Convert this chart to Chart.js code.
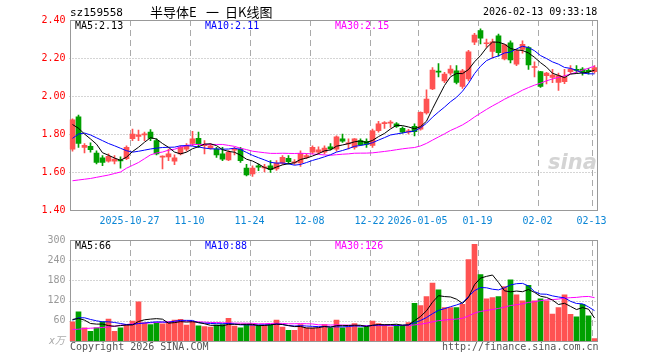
<!DOCTYPE html>
<html lang="zh-CN">
<head>
<meta charset="UTF-8">
<title>半导体E 日K线图</title>
<script src="https://cdn.jsdelivr.net/npm/chart.js"></script>
<style>
  body { margin: 0; background: #fff; }
  #wrap { position: relative; width: 660px; height: 360px; overflow: hidden; }
  #kline { position: absolute; left: 0; top: 0; }
  #vol { position: absolute; left: 0; top: 230px; }
  .t { position: absolute; font: 10px 'DejaVu Sans Mono', monospace; line-height: 12px; white-space: pre; }
  .cn { font: 13px 'Noto Sans CJK SC', sans-serif; line-height: 16px; top: 4px; }
</style>
</head>
<body>
<div id="wrap">
  <canvas id="kline" width="660" height="230"></canvas>
  <canvas id="vol" width="660" height="130"></canvas>

  <div class="t" style="left:70px;top:7px;font-size:11px;">sz159558</div>
  <div class="t cn" style="left:150px;">半导体E</div>
  <div class="t cn" style="left:206px;">一</div>
  <div class="t cn" style="left:225px;">日K线图</div>
  <div class="t" style="left:483px;top:6px;">2026-02-13 09:33:18</div>

  <div class="t" style="left:75px;top:20px;color:#000;">MA5:2.13</div>
  <div class="t" style="left:205px;top:20px;color:#0000ff;">MA10:2.11</div>
  <div class="t" style="left:335px;top:20px;color:#ff00ff;">MA30:2.15</div>

  <div class="t" style="left:75px;top:240px;color:#000;">MA5:66</div>
  <div class="t" style="left:205px;top:240px;color:#0000ff;">MA10:88</div>
  <div class="t" style="left:335px;top:240px;color:#ff00ff;">MA30:126</div>

  <div class="t" style="left:49px;top:335px;color:#aaa;font-style:italic;">x万</div>
  <div class="t" style="left:70px;top:341px;color:#555;">Copyright 2026 SINA.COM</div>
  <div class="t" style="left:442px;top:341px;color:#555;">http://finance.sina.com.cn</div>
  <div class="t" style="left:548px;top:150px;color:#d4d4d4;font:italic bold 21px 'DejaVu Sans',sans-serif;line-height:24px;">sina</div>
</div>

<script>
// 交易日
const dates = [
  '2025-10-13','2025-10-14','2025-10-15','2025-10-16','2025-10-17','2025-10-20','2025-10-21','2025-10-22','2025-10-23','2025-10-24',
  '2025-10-27','2025-10-28','2025-10-29','2025-10-30','2025-10-31','2025-11-03','2025-11-04','2025-11-05','2025-11-06','2025-11-07',
  '2025-11-10','2025-11-11','2025-11-12','2025-11-13','2025-11-14','2025-11-17','2025-11-18','2025-11-19','2025-11-20','2025-11-21',
  '2025-11-24','2025-11-25','2025-11-26','2025-11-27','2025-11-28','2025-12-01','2025-12-02','2025-12-03','2025-12-04','2025-12-05',
  '2025-12-08','2025-12-09','2025-12-10','2025-12-11','2025-12-12','2025-12-15','2025-12-16','2025-12-17','2025-12-18','2025-12-19',
  '2025-12-22','2025-12-23','2025-12-24','2025-12-25','2025-12-26','2025-12-29','2025-12-30','2025-12-31','2026-01-05','2026-01-06',
  '2026-01-07','2026-01-08','2026-01-09','2026-01-12','2026-01-13','2026-01-14','2026-01-15','2026-01-16','2026-01-19','2026-01-20',
  '2026-01-21','2026-01-22','2026-01-23','2026-01-26','2026-01-27','2026-01-28','2026-01-29','2026-01-30','2026-02-02','2026-02-03',
  '2026-02-04','2026-02-05','2026-02-06','2026-02-09','2026-02-10','2026-02-11','2026-02-12','2026-02-13'
];

// 开 高 低 收
const open = [
  1.72,1.89,1.73,1.735,1.70,1.675,1.657,1.657,1.662,1.67,
  1.775,1.787,1.795,1.81,1.765,1.678,1.68,1.657,1.695,1.72,
  1.75,1.777,1.738,1.725,1.72,1.695,1.663,1.715,1.72,1.62,
  1.59,1.633,1.622,1.633,1.616,1.647,1.672,1.648,1.648,1.677,
  1.705,1.705,1.705,1.733,1.72,1.774,1.748,1.73,1.765,1.762,
  1.74,1.817,1.855,1.857,1.853,1.83,1.81,1.84,1.826,1.911,
  2.037,2.13,2.08,2.12,2.133,2.05,2.09,2.283,2.344,2.275,
  2.235,2.317,2.195,2.28,2.168,2.245,2.255,2.15,2.128,2.107,
  2.098,2.072,2.075,2.128,2.14,2.142,2.135,2.128
];
const high = [
  1.88,1.90,1.75,1.753,1.712,1.686,1.695,1.686,1.68,1.738,
  1.826,1.82,1.81,1.823,1.774,1.685,1.72,1.69,1.738,1.75,
  1.814,1.81,1.765,1.75,1.73,1.73,1.713,1.73,1.73,1.64,
  1.633,1.642,1.64,1.66,1.66,1.686,1.686,1.665,1.712,1.695,
  1.738,1.733,1.738,1.75,1.79,1.80,1.774,1.776,1.774,1.774,
  1.826,1.867,1.865,1.87,1.86,1.838,1.825,1.853,1.917,2.033,
  2.15,2.17,2.125,2.16,2.16,2.14,2.24,2.33,2.353,2.30,
  2.30,2.326,2.27,2.29,2.245,2.29,2.26,2.18,2.13,2.125,
  2.14,2.12,2.14,2.16,2.16,2.15,2.145,2.16
];
const low = [
  1.71,1.73,1.70,1.704,1.642,1.633,1.652,1.642,1.62,1.665,
  1.765,1.765,1.765,1.765,1.69,1.616,1.66,1.638,1.69,1.71,
  1.738,1.73,1.695,1.72,1.677,1.66,1.66,1.69,1.65,1.58,
  1.577,1.607,1.60,1.598,1.608,1.64,1.642,1.64,1.63,1.67,
  1.695,1.695,1.695,1.716,1.71,1.756,1.721,1.72,1.74,1.73,
  1.73,1.809,1.83,1.835,1.835,1.805,1.80,1.79,1.82,1.905,
  2.033,2.10,2.07,2.11,2.063,2.04,2.08,2.27,2.274,2.256,
  2.20,2.21,2.19,2.174,2.16,2.225,2.14,2.10,2.045,2.063,
  2.07,2.03,2.065,2.12,2.12,2.11,2.115,2.12
];
const close = [
  1.875,1.75,1.74,1.717,1.65,1.65,1.683,1.668,1.658,1.73,
  1.80,1.795,1.80,1.777,1.695,1.683,1.695,1.675,1.73,1.738,
  1.775,1.748,1.743,1.738,1.69,1.668,1.704,1.72,1.66,1.585,
  1.62,1.625,1.626,1.612,1.647,1.677,1.655,1.652,1.698,1.686,
  1.73,1.717,1.726,1.721,1.785,1.762,1.753,1.774,1.742,1.745,
  1.817,1.853,1.858,1.86,1.84,1.81,1.817,1.812,1.914,1.984,
  2.137,2.126,2.116,2.142,2.072,2.133,2.233,2.32,2.304,2.278,
  2.285,2.228,2.27,2.19,2.238,2.272,2.163,2.155,2.05,2.12,
  2.11,2.107,2.098,2.142,2.135,2.125,2.128,2.15
];
// 成交量(万)
const volume = [
  57,87,39,29,39,57,65,29,39,47,
  59,116,54,49,54,51,57,62,64,47,
  57,45,43,41,47,49,67,44,39,49,
  49,47,47,47,62,41,32,32,49,39,
  39,39,49,39,62,39,42,52,39,42,
  59,52,49,42,47,45,55,112,105,132,
  172,152,99,99,99,109,242,287,197,125,
  129,132,162,182,137,119,165,119,125,119,
  80,99,137,79,72,109,75,7
];

// 图左侧窗口之前的均线值
const ma5Head  = [1.85,1.83,1.80,1.774];
const ma10Head = [1.777,1.80,1.805,1.795,1.78,1.765,1.75,1.738,1.725];
const ma30Head = [1.554,1.558,1.562,1.566,1.572,1.578,1.584,1.592,1.60,1.62,
                  1.635,1.65,1.67,1.69,1.70,1.705,1.715,1.72,1.73,1.74,
                  1.744,1.745,1.745,1.745,1.745,1.745,1.74,1.735,1.725];
const vma5Head  = [64,67,62,52];
const vma10Head = [62,69,69,64,60,57,57,55,52];
const vma30Head = [34,35,37,38,39,40,42,44,47,49,51,52,53,54,55,56,57,58,59,59,
                   58,57,56,55,55,54,54,53,53];

const priceTicks = [1.40, 1.60, 1.80, 2.00, 2.20, 2.40];
const volTicks = [60, 120, 180, 240, 300];
const tickDates = ['2025-10-27','2025-11-10','2025-11-24','2025-12-08','2025-12-22','2026-01-05','2026-01-19','2026-02-02','2026-02-13'];
const tickTexts = ['2025-10-27','11-10','11-24','12-08','12-22','2026-01-05','01-19','02-02','02-13'];

const RED = '#ff5252', GREEN = '#00a000';
const MONO = 'DejaVu Sans Mono';

function movingAvg(src, n, head) {
  return src.map((v, i) => {
    if (i < head.length) return head[i];
    let s = 0;
    for (let k = i - n + 1; k <= i; k++) s += src[k];
    return s / n;
  });
}

const colors = close.map((c, i) => c >= open[i] ? RED : GREEN);
const tickIdx = tickDates.map(d => dates.indexOf(d));

// 网格和边框
function gridPlugin(hTicks) {
  return {
    id: 'sinaGrid',
    beforeDatasetsDraw(chart) {
      const { ctx, chartArea: a, scales } = chart;
      const xs = scales.x, ys = scales.y;
      const half = (xs.getPixelForValue(1) - xs.getPixelForValue(0)) / 2;
      ctx.save();
      ctx.lineWidth = 1;
      ctx.strokeStyle = '#aaa';
      ctx.setLineDash([1, 2]);
      hTicks.forEach(v => {
        const y = Math.round(ys.getPixelForValue(v)) + 0.5;
        if (y <= a.top + 1 || y >= a.bottom - 1) return;
        ctx.beginPath(); ctx.moveTo(a.left, y); ctx.lineTo(a.right, y); ctx.stroke();
      });
      ctx.setLineDash([6, 4]);
      tickIdx.forEach(i => {
        const x = Math.round(xs.getPixelForValue(i) - half) + 0.5;
        ctx.beginPath(); ctx.moveTo(x, a.top); ctx.lineTo(x, a.bottom); ctx.stroke();
      });
      ctx.setLineDash([]);
      ctx.strokeStyle = '#999';
      const l = Math.ceil(a.left) + 0.5, r = Math.floor(a.right) + 0.5;
      const t = Math.round(a.top) + 0.5, b = Math.round(a.bottom) + 0.5;
      ctx.strokeRect(l, t, r - l, b - t);
      ctx.restore();
    }
  };
}

function lineSet(data, color) {
  return { type: 'line', data, borderColor: color, borderWidth: 1, pointRadius: 0, tension: 0, order: 1 };
}

const ma5 = movingAvg(close, 5, ma5Head);
const ma10 = movingAvg(close, 10, ma10Head);
const ma30 = movingAvg(close, 30, ma30Head);

new Chart(document.getElementById('kline'), {
  type: 'bar',
  data: {
    labels: dates,
    datasets: [
      { data: low.map((l, i) => [l, high[i]]), backgroundColor: colors, barThickness: 1, minBarLength: 1, grouped: false, order: 3 },
      { data: open.map((o, i) => [Math.min(o, close[i]), Math.max(o, close[i])]), backgroundColor: colors, barThickness: 5, minBarLength: 1, grouped: false, order: 2 },
      lineSet(ma5, '#000000'),
      lineSet(ma10, '#0000ff'),
      lineSet(ma30, '#ff00ff')
    ]
  },
  options: {
    responsive: false,
    animation: false,
    devicePixelRatio: 1,
    layout: { padding: { left: 0, right: 62.5, top: 20, bottom: 0 } },
    plugins: { legend: { display: false }, tooltip: { enabled: false } },
    scales: {
      x: {
        offset: true,
        grid: { display: false, drawTicks: false },
        border: { display: false },
        ticks: {
          autoSkip: false, maxRotation: 0, minRotation: 0, padding: 5, labelOffset: -3,
          color: '#0b86d6', font: { family: MONO, size: 10 },
          callback: (v, i) => { const k = tickIdx.indexOf(i); return k >= 0 ? tickTexts[k] : ''; }
        },
        afterFit: s => { s.height = 20; }
      },
      y: {
        min: 1.4, max: 2.4,
        grid: { display: false, drawTicks: false },
        border: { display: false },
        afterBuildTicks: s => { s.ticks = priceTicks.map(v => ({ value: v })); },
        ticks: { padding: 4, color: '#ff0000', font: { family: MONO, size: 10 }, callback: v => v.toFixed(2) },
        afterFit: s => { s.width = 69.5; }
      }
    }
  },
  plugins: [gridPlugin(priceTicks)]
});

const vma5 = movingAvg(volume, 5, vma5Head);
const vma10 = movingAvg(volume, 10, vma10Head);
const vma30 = movingAvg(volume, 30, vma30Head);

new Chart(document.getElementById('vol'), {
  type: 'bar',
  data: {
    labels: dates,
    datasets: [
      { data: volume, backgroundColor: colors, barThickness: 5, minBarLength: 1, order: 2 },
      lineSet(vma5, '#000000'),
      lineSet(vma10, '#0000ff'),
      lineSet(vma30, '#ff00ff')
    ]
  },
  options: {
    responsive: false,
    animation: false,
    devicePixelRatio: 1,
    layout: { padding: { left: 0, right: 62.5, top: 10, bottom: 19 } },
    plugins: { legend: { display: false }, tooltip: { enabled: false } },
    scales: {
      x: { display: false, offset: true },
      y: {
        min: 0, max: 300,
        grid: { display: false, drawTicks: false },
        border: { display: false },
        afterBuildTicks: s => { s.ticks = [0].concat(volTicks).map(v => ({ value: v })); },
        ticks: { padding: 4, color: '#999', font: { family: MONO, size: 10 }, callback: v => v ? String(v) : '' },
        afterFit: s => { s.width = 69.5; }
      }
    }
  },
  plugins: [gridPlugin(volTicks)]
});
</script>
</body>
</html>
